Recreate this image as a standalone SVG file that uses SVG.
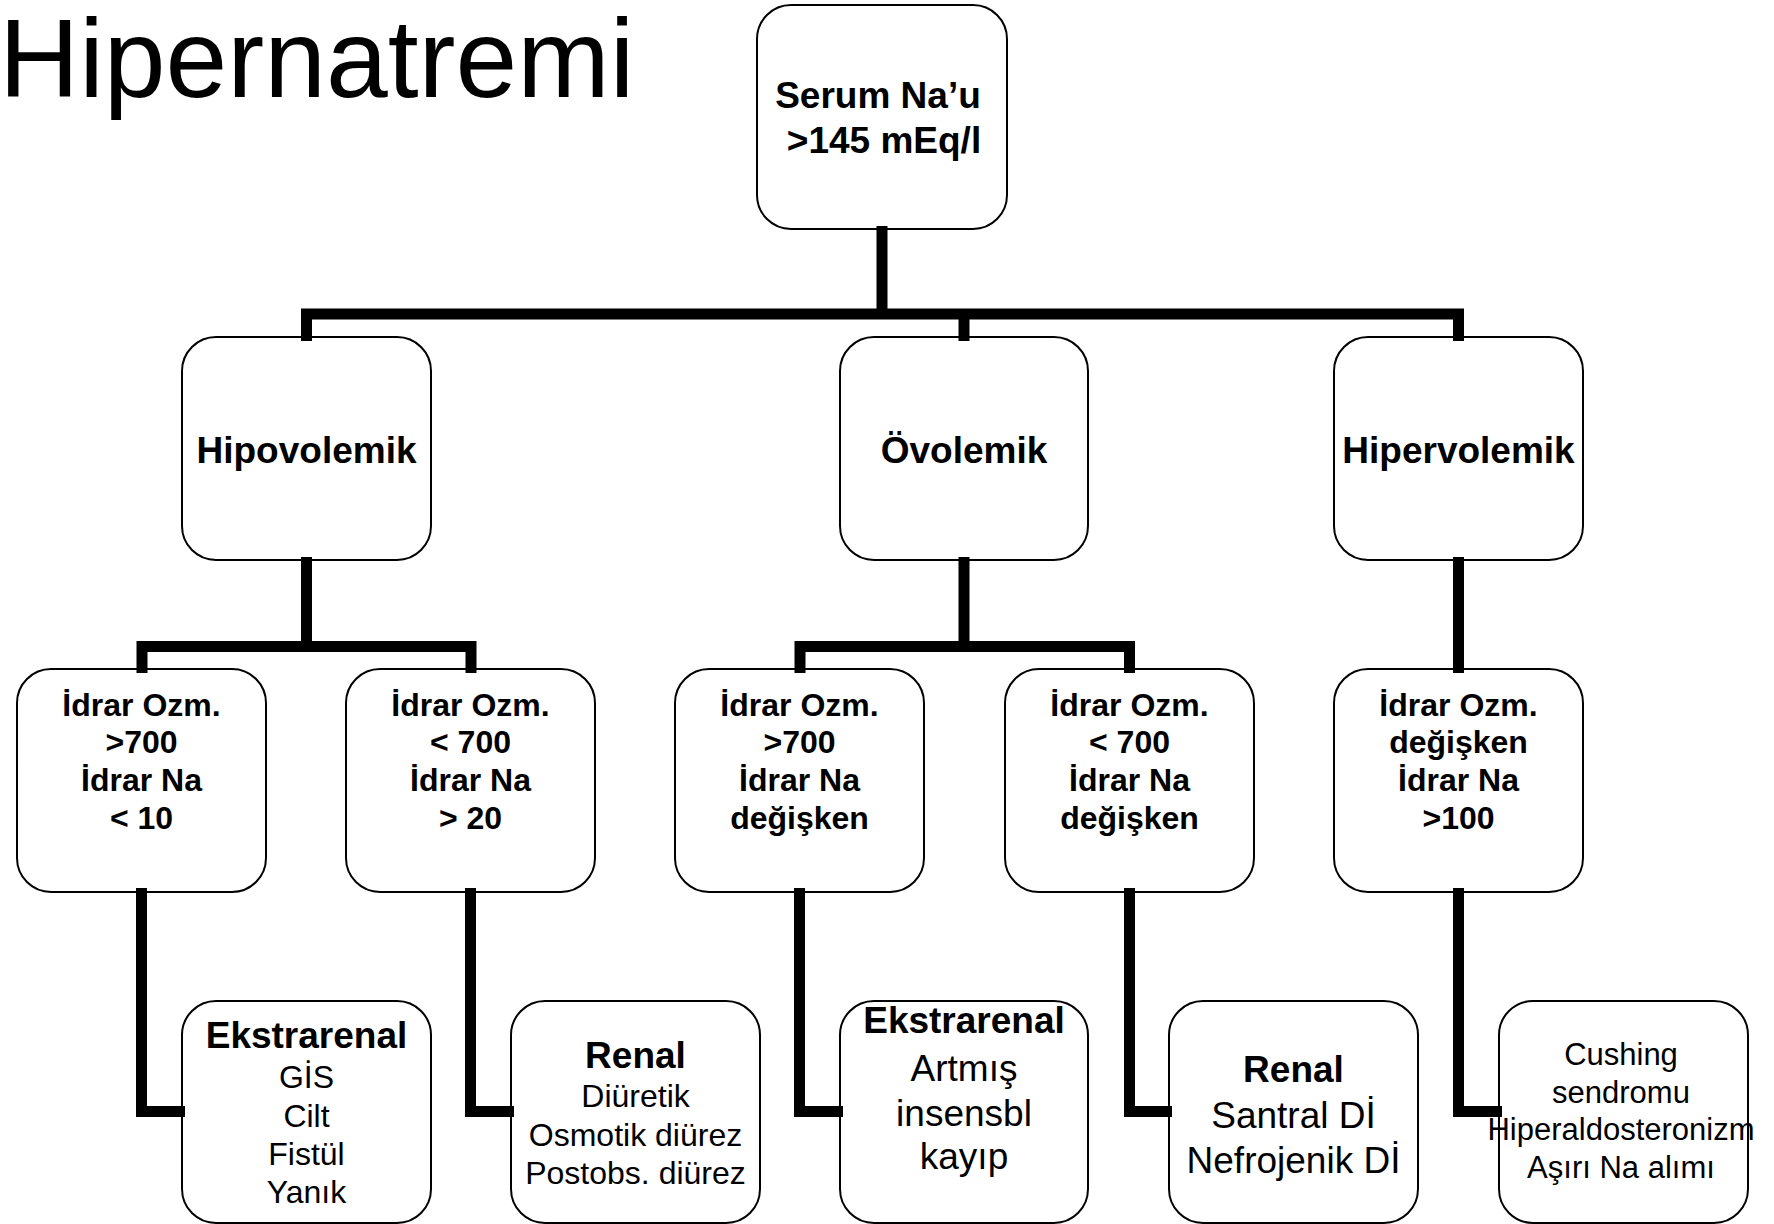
<svg xmlns="http://www.w3.org/2000/svg" width="1774" height="1224" viewBox="0 0 1774 1224">
<style>
.box{fill:#fff;stroke:#000;stroke-width:2}
.t{font-family:"Liberation Sans",Arial,sans-serif;fill:#000;text-anchor:middle}
.h{font-size:37px;font-weight:bold}
.l3{font-size:32px;font-weight:bold}
.r32{font-size:32px}
.r37{font-size:37px}
.r31{font-size:31px}
.c{fill:none;stroke:#000;stroke-width:11;stroke-linejoin:miter;stroke-linecap:butt}
</style>
<rect width="1774" height="1224" fill="#fff"/>
<text x="-1" y="97" font-family="Liberation Sans, Arial, sans-serif" font-size="111" fill="#000">Hipernatremi</text>

<g id="n-serum">
<rect class="box" x="757" y="5" width="250" height="224" rx="34"/>
<text class="t h" x="878" y="108">Serum Na’u</text>
<text class="t h" x="884" y="153">&gt;145 mEq/l</text>
</g>

<g id="n-hipovolemik">
<rect class="box" x="182" y="337" width="249" height="223" rx="34"/>
<text class="t h" x="306.5" y="463">Hipovolemik</text>
</g>
<g id="n-ovolemik">
<rect class="box" x="840" y="337" width="248" height="223" rx="34"/>
<text class="t h" x="964" y="463">Övolemik</text>
</g>
<g id="n-hipervolemik">
<rect class="box" x="1334" y="337" width="249" height="223" rx="34"/>
<text class="t h" x="1458.5" y="463">Hipervolemik</text>
</g>

<g id="n-l3-1">
<rect class="box" x="17" y="669" width="249" height="223" rx="34"/>
<text class="t l3" x="141.5" y="716">İdrar Ozm.</text>
<text class="t l3" x="141.5" y="753">&gt;700</text>
<text class="t l3" x="141.5" y="791">İdrar Na</text>
<text class="t l3" x="141.5" y="829">&lt; 10</text>
</g>
<g id="n-l3-2">
<rect class="box" x="346" y="669" width="249" height="223" rx="34"/>
<text class="t l3" x="470.5" y="716">İdrar Ozm.</text>
<text class="t l3" x="470.5" y="753">&lt; 700</text>
<text class="t l3" x="470.5" y="791">İdrar Na</text>
<text class="t l3" x="470.5" y="829">&gt; 20</text>
</g>
<g id="n-l3-3">
<rect class="box" x="675" y="669" width="249" height="223" rx="34"/>
<text class="t l3" x="799.5" y="716">İdrar Ozm.</text>
<text class="t l3" x="799.5" y="753">&gt;700</text>
<text class="t l3" x="799.5" y="791">İdrar Na</text>
<text class="t l3" x="799.5" y="829">değişken</text>
</g>
<g id="n-l3-4">
<rect class="box" x="1005" y="669" width="249" height="223" rx="34"/>
<text class="t l3" x="1129.5" y="716">İdrar Ozm.</text>
<text class="t l3" x="1129.5" y="753">&lt; 700</text>
<text class="t l3" x="1129.5" y="791">İdrar Na</text>
<text class="t l3" x="1129.5" y="829">değişken</text>
</g>
<g id="n-l3-5">
<rect class="box" x="1334" y="669" width="249" height="223" rx="34"/>
<text class="t l3" x="1458.5" y="716">İdrar Ozm.</text>
<text class="t l3" x="1458.5" y="753">değişken</text>
<text class="t l3" x="1458.5" y="791">İdrar Na</text>
<text class="t l3" x="1458.5" y="829">&gt;100</text>
</g>

<g id="n-l4-1">
<rect class="box" x="182" y="1001" width="249" height="222" rx="34"/>
<text class="t h" x="306.5" y="1048">Ekstrarenal</text>
<text class="t r32" x="306.5" y="1088">GİS</text>
<text class="t r32" x="306.5" y="1127">Cilt</text>
<text class="t r32" x="306.5" y="1165">Fistül</text>
<text class="t r32" x="306.5" y="1203">Yanık</text>
</g>
<g id="n-l4-2">
<rect class="box" x="511" y="1001" width="249" height="222" rx="34"/>
<text class="t h" x="635.5" y="1068">Renal</text>
<text class="t r32" x="635.5" y="1107">Diüretik</text>
<text class="t r32" x="635.5" y="1146">Osmotik diürez</text>
<text class="t r32" x="635.5" y="1184">Postobs. diürez</text>
</g>
<g id="n-l4-3">
<rect class="box" x="840" y="1001" width="248" height="222" rx="34"/>
<text class="t h" x="964" y="1033">Ekstrarenal</text>
<text class="t r37" x="964" y="1081">Artmış</text>
<text class="t r37" x="964" y="1126">insensbl</text>
<text class="t r37" x="964" y="1169">kayıp</text>
</g>
<g id="n-l4-4">
<rect class="box" x="1169" y="1001" width="249" height="222" rx="34"/>
<text class="t h" x="1293.5" y="1082">Renal</text>
<text class="t r37" x="1293.5" y="1128">Santral Dİ</text>
<text class="t r37" x="1293.5" y="1173">Nefrojenik Dİ</text>
</g>
<g id="n-l4-5">
<rect class="box" x="1499" y="1001" width="249" height="222" rx="34"/>
<text class="t r31" x="1621" y="1065">Cushing</text>
<text class="t r31" x="1621" y="1103">sendromu</text>
<text class="t r31" x="1621" y="1140">Hiperaldosteronizm</text>
<text class="t r31" x="1621" y="1178">Aşırı Na alımı</text>
</g>

<g id="connectors">
<path class="c" d="M882,226 V314"/>
<path class="c" d="M306.5,341 V314 H1458.5 V341"/>
<path class="c" d="M964,314 V341"/>
<path class="c" d="M306.5,557 V646.5"/>
<path class="c" d="M142,673 V646.5 H471 V673"/>
<path class="c" d="M964,557 V646.5"/>
<path class="c" d="M800,673 V646.5 H1129.5 V673"/>
<path class="c" d="M1458.5,557 V673"/>
<path class="c" d="M141.5,888 V1111.5 H185"/>
<path class="c" d="M470.5,888 V1111.5 H514"/>
<path class="c" d="M799.5,888 V1111.5 H843"/>
<path class="c" d="M1129.5,888 V1111.5 H1172"/>
<path class="c" d="M1458.5,888 V1111.5 H1502"/>
</g>
</svg>
